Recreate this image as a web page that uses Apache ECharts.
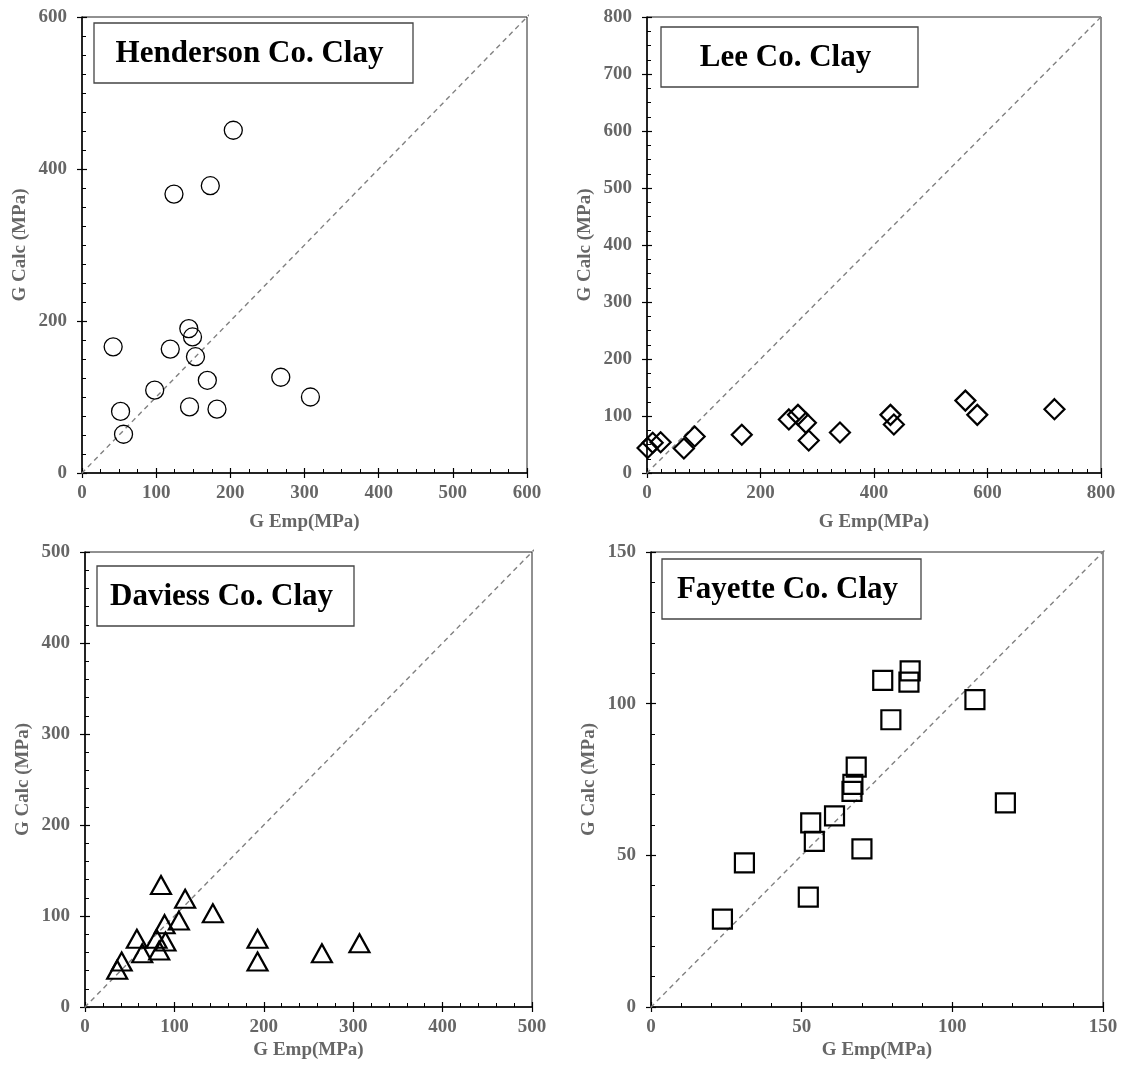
<!DOCTYPE html>
<html>
<head>
<meta charset="utf-8">
<script src="https://cdn.jsdelivr.net/npm/echarts@6/dist/echarts.min.js"></script>
<style>
  html, body { margin: 0; background: #fff; }
  #chart { width: 1121px; height: 1067px; }
</style>
</head>
<body>
<div id="chart"></div>
<script>
// panels: Henderson, Lee, Daviess, Fayette
const panelTitles = ['Henderson Co. Clay', 'Lee Co. Clay', 'Daviess Co. Clay', 'Fayette Co. Clay'];
const axisMax = [600, 800, 500, 150];
const xStep = [100, 200, 100, 50];
const yStep = [200, 100, 100, 50];
const xMinorSplit = [4, 8, 5, 5];
const yMinorSplit = [8, 4, 5, 5];
const markerShapes = ['circle', 'diamond', 'triangle', 'rect'];

const hendersonEmp = [204, 124, 173, 144, 149, 42, 119, 153, 169, 268, 98, 308, 145, 182, 52, 56];
const hendersonCalc = [451, 367, 378, 190, 179, 166, 163, 153, 122, 126, 109, 100, 87, 84, 81, 51];

const leeEmp = [1, 10, 24, 65, 84, 167, 250, 266, 280, 285, 340, 429, 435, 561, 582, 718];
const leeCalc = [44, 53, 54, 43, 64, 67, 94, 102, 88, 57, 71, 102, 85, 127, 102, 112];

const daviessEmp = [36, 41, 58, 64, 80, 83, 90, 89, 85, 105, 112, 143, 193, 193, 265, 307];
const daviessCalc = [41, 50, 75, 59, 75, 62, 72, 91, 134, 95, 119, 103, 75, 50, 59, 70];

const fayetteEmp = [23.7, 31, 52.2, 53, 54.2, 60.9, 66.7, 67, 68.1, 70, 76.9, 79.6, 85.6, 86, 107.5, 117.6];
const fayetteCalc = [29, 47.5, 36.2, 60.7, 54.6, 63, 71.1, 73.4, 79.1, 52.1, 107.7, 94.7, 107.1, 110.8, 101.3, 67.3];

const empSets = [hendersonEmp, leeEmp, daviessEmp, fayetteEmp];
const calcSets = [hendersonCalc, leeCalc, daviessCalc, fayetteCalc];

const font = '"Liberation Serif", "Times New Roman", serif';
const grids = [
  { left: 82, top: 17, width: 445, height: 456 },
  { left: 647, top: 17, width: 454, height: 456 },
  { left: 85, top: 552, width: 447, height: 455 },
  { left: 651, top: 552, width: 452, height: 455 }
];
const boxes = [
  { x: 94, y: 23, w: 319, h: 60 },
  { x: 661, y: 27, w: 257, h: 60 },
  { x: 97, y: 566, w: 257, h: 60 },
  { x: 662, y: 559, w: 259, h: 60 }
];
const xNameGap = [40, 40, 34, 34];
const symbolSizes = [18, 20, [20, 18], 19];
const symbolBorder = [1.3, 2.2, 2.2, 2.2];

const labelStyle = { color: '#666', fontFamily: font, fontWeight: 'bold', fontSize: 19 };
const tickLine = { color: '#000', width: 1.2 };

const xAxes = [];
const yAxes = [];
const series = [];

panelTitles.forEach((t, i) => {
  const max = axisMax[i];
  // main axes: line, labels and outer half of major ticks
  xAxes.push({
    type: 'value', gridIndex: i, position: 'bottom', min: 0, max: max, interval: xStep[i],
    axisLine: { show: true, onZero: false, lineStyle: { color: '#000', width: 1.5 } },
    axisTick: { show: true, length: 5, lineStyle: tickLine },
    splitLine: { show: false },
    axisLabel: Object.assign({ margin: 11 }, labelStyle),
    name: 'G Emp(MPa)', nameLocation: 'middle', nameGap: xNameGap[i],
    nameTextStyle: labelStyle
  });
  // second axis: inner ticks + minor ticks
  xAxes.push({
    type: 'value', gridIndex: i, position: 'bottom', min: 0, max: max, interval: xStep[i],
    axisLine: { show: false }, axisLabel: { show: false }, splitLine: { show: false },
    axisTick: { show: true, inside: true, length: 5, lineStyle: tickLine },
    minorTick: { show: true, splitNumber: xMinorSplit[i], length: 4, lineStyle: { color: '#000', width: 1 } }
  });
  yAxes.push({
    type: 'value', gridIndex: i, position: 'left', min: 0, max: max, interval: yStep[i],
    axisLine: { show: true, onZero: false, lineStyle: { color: '#000', width: 1.5 } },
    axisTick: { show: true, length: 5, lineStyle: tickLine },
    splitLine: { show: false },
    axisLabel: Object.assign({ margin: 15 }, labelStyle),
    name: 'G Calc (MPa)', nameLocation: 'middle', nameGap: 52, nameRotate: 90,
    nameTextStyle: labelStyle
  });
  yAxes.push({
    type: 'value', gridIndex: i, position: 'left', min: 0, max: max, interval: yStep[i],
    axisLine: { show: false }, axisLabel: { show: false }, splitLine: { show: false },
    axisTick: { show: true, inside: true, length: 5, lineStyle: tickLine },
    minorTick: { show: true, splitNumber: yMinorSplit[i], length: 4, lineStyle: { color: '#000', width: 1 } }
  });

  // 1:1 reference line
  const lo = -0.015 * max, hi = 1.005 * max;
  series.push({
    type: 'line', xAxisIndex: 2 * i, yAxisIndex: 2 * i,
    data: [[lo, lo], [hi, hi]],
    symbol: 'none', clip: false, silent: true, z: 1,
    lineStyle: { color: '#808080', width: 1.4, type: [5, 4] }
  });
  series.push({
    type: 'scatter', xAxisIndex: 2 * i, yAxisIndex: 2 * i,
    data: empSets[i].map((v, k) => [v, calcSets[i][k]]),
    symbol: markerShapes[i], symbolSize: symbolSizes[i], z: 3,
    itemStyle: { color: 'rgba(0,0,0,0)', borderColor: '#000', borderWidth: symbolBorder[i], opacity: 1 }
  });
});

const chart = echarts.init(document.getElementById('chart'));
chart.setOption({
  animation: false,
  backgroundColor: '#fff',
  grid: grids.map(g => Object.assign({ show: true, borderColor: '#222', borderWidth: 1, backgroundColor: 'transparent' }, g)),
  xAxis: xAxes,
  yAxis: yAxes,
  series: series,
  graphic: panelTitles.map((t, i) => ({
    type: 'group', x: boxes[i].x, y: boxes[i].y, z: 10,
    children: [
      { type: 'rect', shape: { x: 0, y: 0, width: boxes[i].w, height: boxes[i].h },
        style: { fill: '#fff', stroke: '#444', lineWidth: 1.3 } },
      { type: 'text', x: boxes[i].w / 2 - 4, y: boxes[i].h / 2 + 1,
        style: { text: t, font: 'bold 31px ' + font, fill: '#000', align: 'center', verticalAlign: 'middle' } }
    ]
  }))
});
</script>
</body>
</html>
